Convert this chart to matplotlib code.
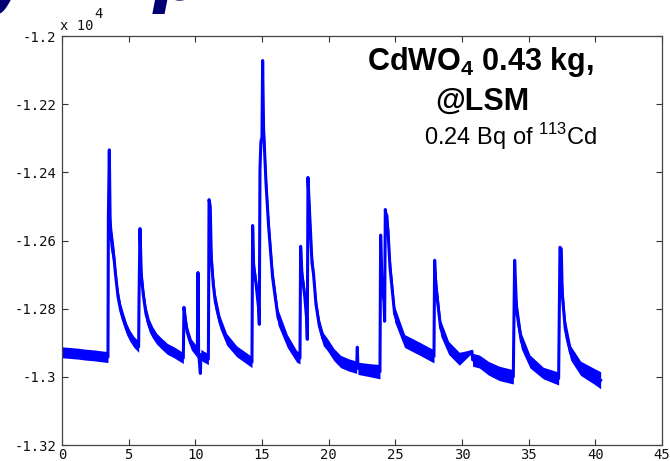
import matplotlib.pyplot as plt

plt.rcParams['axes.unicode_minus'] = False
plt.rcParams['mathtext.fontset'] = 'custom'
plt.rcParams['mathtext.rm'] = 'Liberation Sans'
plt.rcParams['mathtext.bf'] = 'Liberation Sans:bold'

# detector trace, amplitude in units of 1e4 ADC counts
time_s = [0.00, 0.60, 1.20, 1.80, 2.40, 3.00, 3.45,
          3.48, 3.55, 3.62, 3.75, 3.90, 4.00, 4.20, 4.40, 4.60, 4.85, 5.10, 5.40, 5.75,
          5.78, 5.85, 5.95, 6.10, 6.30, 6.55, 6.80, 7.10, 7.40, 7.90, 8.40, 9.10,
          9.15, 9.25, 9.40, 9.70, 10.15,
          10.20, 10.25, 10.38, 10.42, 10.60, 10.98,
          11.03, 11.12, 11.20, 11.35, 11.50, 11.85, 12.35, 13.10, 14.25,
          14.30, 14.38, 14.55, 14.75, 14.80, 14.85, 14.92, 15.00, 15.05, 15.12, 15.30,
          15.50, 15.80, 16.20, 16.90, 17.60, 17.85,
          17.90, 18.00, 18.20, 18.35, 18.40, 18.45, 18.55, 18.75, 18.87, 19.05, 19.30,
          19.60, 19.90, 20.40, 20.90, 21.50, 22.10, 22.15, 22.20, 23.00, 23.85,
          23.90, 24.00, 24.15, 24.20, 24.25, 24.45, 24.60, 24.95, 25.70, 26.70, 27.75, 27.90,
          27.95, 28.05, 28.40, 29.00, 29.80, 30.75, 30.80, 31.30, 32.00, 32.80, 33.85,
          33.95, 34.10, 34.45, 35.10, 36.10, 37.25,
          37.35, 37.45, 37.52, 37.75, 38.15, 38.90, 39.90, 40.40]

signal = [-1.2928, -1.2930, -1.2932, -1.2935, -1.2937, -1.2940, -1.2942,
          -1.2530, -1.2334, -1.2570, -1.2610, -1.2650, -1.2694, -1.2764, -1.2805, -1.2830, -1.2860, -1.2880, -1.2898, -1.2912,
          -1.2770, -1.2565, -1.2700, -1.2760, -1.2815, -1.2850, -1.2870, -1.2888, -1.2900, -1.2918, -1.2928, -1.2945,
          -1.2796, -1.2830, -1.2870, -1.2905, -1.2928,
          -1.2694, -1.2930, -1.2990, -1.2935, -1.2940, -1.2948,
          -1.2480, -1.2500, -1.2650, -1.2730, -1.2780, -1.2840, -1.2890, -1.2925, -1.2957,
          -1.2556, -1.2680, -1.2725, -1.2800, -1.2846, -1.2392, -1.2310, -1.2296, -1.2072, -1.2270, -1.2430,
          -1.2560, -1.2710, -1.2825, -1.2895, -1.2940, -1.2945,
          -1.2617, -1.2700, -1.2760, -1.2830, -1.2890, -1.2415, -1.2500, -1.2665, -1.2700, -1.2787, -1.2850,
          -1.2890, -1.2905, -1.2935, -1.2955, -1.2965, -1.2972, -1.2913, -1.2975, -1.2980, -1.2985,
          -1.2584, -1.2723, -1.2780, -1.2837, -1.2509, -1.2570, -1.2678, -1.2816, -1.2895, -1.2915, -1.2937, -1.2940,
          -1.2658, -1.2738, -1.2857, -1.2915, -1.2947, -1.2925, -1.2950, -1.2955, -1.2975, -1.2990, -1.3000,
          -1.2658, -1.2807, -1.2895, -1.2955, -1.2989, -1.3005,
          -1.2620, -1.2625, -1.2757, -1.2860, -1.2930, -1.2975, -1.2998, -1.3010]

# half width of the noise band around the trace
noise = [0.0016, 0.0016, 0.0016, 0.0016, 0.0016, 0.0016, 0.0016,
         0.0020, 0.0000, 0.0050, 0.0040, 0.0030, 0.0025, 0.0022, 0.0020, 0.0018, 0.0017, 0.0016, 0.0016, 0.0016,
         0.0010, 0.0000, 0.0025, 0.0025, 0.0022, 0.0019, 0.0017, 0.0016, 0.0016, 0.0016, 0.0016, 0.0016,
         0.0000, 0.0020, 0.0018, 0.0016, 0.0016,
         0.0003, 0.0016, 0.0003, 0.0016, 0.0016, 0.0016,
         0.0000, 0.0015, 0.0040, 0.0030, 0.0025, 0.0019, 0.0017, 0.0016, 0.0016,
         0.0000, 0.0030, 0.0025, 0.0020, 0.0000, 0.0000, 0.0015, 0.0015, 0.0000, 0.0050, 0.0040,
         0.0035, 0.0030, 0.0023, 0.0019, 0.0017, 0.0017,
         0.0000, 0.0025, 0.0022, 0.0020, 0.0000, 0.0000, 0.0040, 0.0030, 0.0025, 0.0022, 0.0020,
         0.0019, 0.0018, 0.0018, 0.0018, 0.0018, 0.0018, 0.0004, 0.0018, 0.0019, 0.0021,
         0.0000, 0.0030, 0.0025, 0.0000, 0.0000, 0.0045, 0.0035, 0.0023, 0.0019, 0.0019, 0.0019, 0.0019,
         0.0000, 0.0040, 0.0023, 0.0019, 0.0019, 0.0005, 0.0019, 0.0019, 0.0020, 0.0021, 0.0021,
         0.0000, 0.0035, 0.0023, 0.0019, 0.0017, 0.0019,
         0.0000, 0.0005, 0.0045, 0.0028, 0.0021, 0.0021, 0.0023, 0.0025]

x_ticks = [0, 5, 10, 15, 20, 25, 30, 35, 40, 45]
y_ticks = [-1.32, -1.3, -1.28, -1.26, -1.24, -1.22, -1.2]
y_labels = ['-1.32', '-1.3', '-1.28', '-1.26', '-1.24', '-1.22', '-1.2']

fig = plt.figure(figsize=(6.7, 4.61), dpi=100)
ax = fig.add_axes([0.0925, 0.0347, 0.8955, 0.8872])

lower = [s - n for s, n in zip(signal, noise)]
upper = [s + n for s, n in zip(signal, noise)]
ax.fill_between(time_s, lower, upper, color='#0000ff', lw=0)
ax.plot(time_s, signal, color='#0000ff', lw=2.2)

ax.set_xlim(0, 45)
ax.set_ylim(-1.32, -1.2)
ax.set_xticks(x_ticks)
ax.set_yticks(y_ticks)
ax.set_yticklabels(y_labels)
ax.tick_params(direction='in', length=4, width=0.8, top=True, right=True,
               labelsize=10, colors='#333333', labelcolor='#111111')
for lab in ax.get_xticklabels() + ax.get_yticklabels():
    lab.set_family('DejaVu Sans Mono')
ax.tick_params(axis='x', pad=2)
ax.tick_params(axis='y', pad=4)
for sp in ax.spines.values():
    sp.set_color('#444444')
    sp.set_linewidth(0.9)

# exponent of the y axis
fig.text(0.089, 0.935, 'x 10', fontsize=10, family='DejaVu Sans Mono',
         color='#111111', ha='left', va='baseline')
fig.text(0.141, 0.962, '4', fontsize=10, family='DejaVu Sans Mono',
         color='#111111', ha='left', va='baseline')

# slide heading running off the top edge
fig.text(-0.022, 1.0, 'y', fontsize=50, style='italic', weight='bold',
         color='#000070', va='baseline')
fig.text(0.228, 1.0, 'p', fontsize=50, style='italic', weight='bold',
         color='#000070', va='baseline')

fig.text(0.717, 0.848, r'CdWO$_\mathbf{4}$ 0.43 kg,', fontsize=22, weight='bold',
         family='Liberation Sans', ha='center', va='baseline')
fig.text(0.720, 0.761, '@LSM', fontsize=22, weight='bold',
         family='Liberation Sans', ha='center', va='baseline')
fig.text(0.762, 0.685, r'0.24 Bq of $^{113}$Cd', fontsize=17,
         family='Liberation Sans', ha='center', va='baseline')

fig.savefig('out.png', dpi=100)
